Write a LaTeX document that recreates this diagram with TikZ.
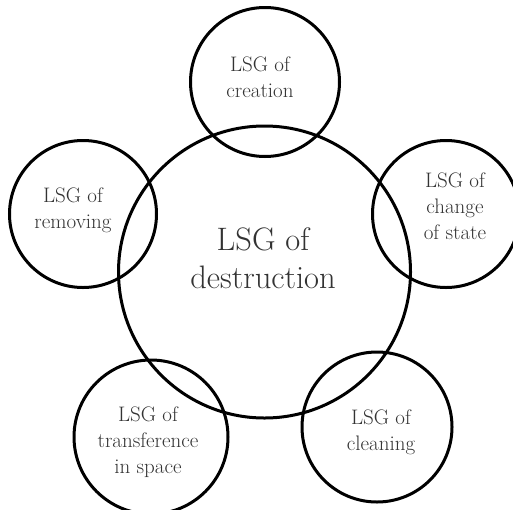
\documentclass[tikz,border=0pt]{standalone}
\begin{document}
\begin{tikzpicture}[x=1pt, y=-1pt, ultra thick,
   ring/.style={circle, draw=black, line width=3pt, inner sep=0pt},
   small/.style={text=black!80, align=center, font=\fontsize{21}{26}\selectfont},
   big/.style={text=black!80, align=center, font=\fontsize{32.5}{38}\selectfont}]
	  \useasboundingbox (0,0) rectangle (513,509);

	  % circles
	  \node [ring, minimum size=292pt] (n0) at (264.5,272) {};
	  \node [ring, minimum size=149pt] (n1) at (265,82)  {};
	  \node [ring, minimum size=147pt] (n2) at (446,214) {};
	  \node [ring, minimum size=150pt] (n3) at (377,427) {};
	  \node [ring, minimum size=154pt] (n4) at (151,437) {};
	  \node [ring, minimum size=147pt] (n5) at (83,214)  {};

	  % labels
	  \node [big]   (t0) at (263,258) {LSG of\\destruction};
	  \node [small] (t1) at (260,77)  {LSG of\\creation};
	  \node [small] (t2) at (455,206) {LSG of\\change\\of state};
	  \node [small] (t3) at (381,432) {LSG of\\cleaning};
	  \node [small] (t4) at (148,442) {LSG of\\transference\\in space};
	  \node [small] (t5) at (73,210)  {LSG of\\removing};

	\end{tikzpicture}
\end{document}
